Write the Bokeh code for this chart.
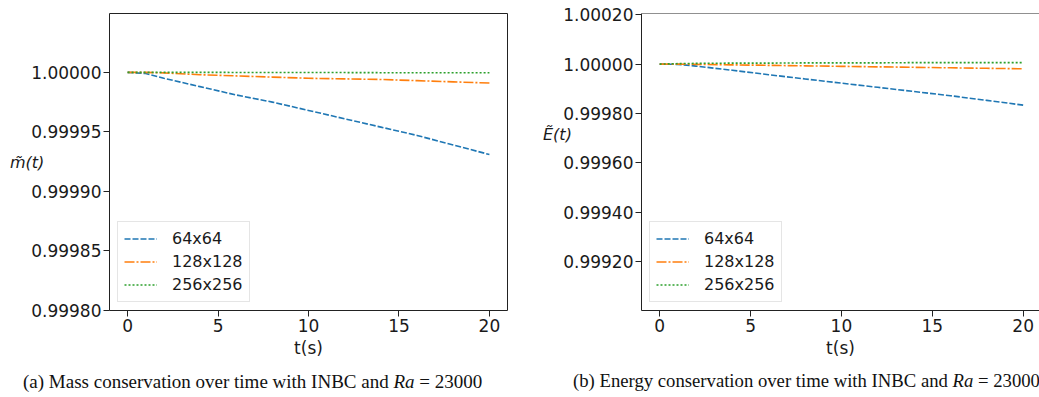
from bokeh.plotting import figure
from bokeh.layouts import column, row
from bokeh.models import (Range1d, FixedTicker, PrintfTickFormatter, Legend,
                          LegendItem, Span, Div)
from bokeh.embed import file_html
from bokeh.resources import INLINE

# ---- data ----
t = [0, 1, 2, 4, 6, 8, 10, 12, 14, 16, 18, 20]
series_names = ["64x64", "128x128", "256x256"]
mass_64 = [1.0, 0.999999, 0.999995, 0.999988, 0.999981, 0.999975, 0.999968,
           0.999961, 0.999954, 0.999947, 0.999939, 0.999931]
mass_128 = [1.0, 1.0, 0.9999995, 0.999998, 0.999997, 0.999996, 0.999995,
            0.9999945, 0.999994, 0.999993, 0.999992, 0.999991]
mass_256 = [1.0, 1.0, 1.0, 1.0, 0.9999999, 0.9999999, 0.9999998, 0.9999998,
            0.9999997, 0.9999997, 0.9999996, 0.9999996]
energy_64 = [1.0, 0.999999, 0.999992, 0.999975, 0.999957, 0.99994, 0.999923,
             0.999906, 0.999889, 0.999872, 0.999853, 0.999834]
energy_128 = [1.0, 1.0, 0.999999, 0.999997, 0.999995, 0.999993, 0.999991,
              0.999989, 0.999987, 0.999985, 0.999983, 0.999981]
energy_256 = [1.0, 1.000002, 1.000003, 1.000004, 1.000004, 1.000005, 1.000005,
              1.000005, 1.000006, 1.000006, 1.000006, 1.000006]
x_ticks = [0, 5, 10, 15, 20]
mass_ticks = [0.99980, 0.99985, 0.99990, 0.99995, 1.00000]
energy_ticks = [0.99920, 0.99940, 0.99960, 0.99980, 1.00000, 1.00020]
mass_label = "m\u0303(t)"
energy_label = "\u1EBC(t)"
caption_a = "(a) Mass conservation over time with INBC and <i>Ra</i> = 23000"
caption_b = "(b) Energy conservation over time with INBC and <i>Ra</i> = 23000"

colors = ["#1f77b4", "#ff7f0e", "#2ca02c"]
dashes = ["6 2", "10 2 2 2", "2 2"]
FONT = "DejaVu Sans"
FS = "16px"
TICK_FS = "17px"
FIG_H = 362
INK = "#1a1a1a"
AXW = 79  # width reserved for the y axis (ticks + labels)


def make_fig(width, ys, yrange, yticks, xend, border_left, border_right,
             border_top, open_right=False):
    p = figure(width=width, height=FIG_H, output_backend="svg",
               toolbar_location=None,
               x_range=Range1d(-1, xend), y_range=Range1d(*yrange),
               min_border_left=border_left, min_border_right=border_right,
               min_border_top=border_top, min_border_bottom=FIG_H - 310)
    p.xgrid.visible = False
    p.ygrid.visible = False
    p.background_fill_color = "white"
    p.border_fill_alpha = 0
    for ax in (p.xaxis[0], p.yaxis[0]):
        ax.axis_line_color = "#222222" if open_right else None
        ax.major_tick_out = 6
        ax.major_tick_in = 0
        ax.minor_tick_out = 0
        ax.minor_tick_in = 0
        ax.major_tick_line_color = "#222222"
        ax.major_label_text_font = FONT
        ax.major_label_text_font_size = TICK_FS
        ax.major_label_text_color = INK
        ax.major_label_standoff = 2
    if open_right:
        p.outline_line_color = None
        p.add_layout(Span(location=yrange[1], dimension="width",
                          line_color="#222222", line_width=1))
    else:
        p.outline_line_color = "#222222"
        p.outline_line_width = 1
    p.xaxis.ticker = FixedTicker(ticks=x_ticks)
    p.yaxis.ticker = FixedTicker(ticks=yticks)
    p.yaxis.formatter = PrintfTickFormatter(format="%.5f")
    p.xaxis.axis_label = "t(s)"
    p.xaxis.axis_label_text_font = FONT
    p.xaxis.axis_label_text_font_size = TICK_FS
    p.xaxis.axis_label_text_font_style = "normal"
    p.xaxis.axis_label_text_color = INK
    p.xaxis.axis_label_standoff = 3

    items = []
    for name, y, c, d in zip(series_names, ys, colors, dashes):
        r = p.line(t, y, line_color=c, line_width=1.6, line_dash=d)
        items.append(LegendItem(label=name, renderers=[r]))
    leg = Legend(items=items, location="bottom_left", margin=8, padding=6,
                 spacing=2, glyph_width=33, glyph_height=21, label_height=21,
                 label_standoff=15, label_text_font=FONT,
                 label_text_font_size=FS, label_text_color=INK,
                 border_line_color="#cccccc", border_line_width=1,
                 background_fill_color="white", background_fill_alpha=0.8)
    p.add_layout(leg)
    return p


def ylabel_div(text, width, pad_left, center_y):
    return Div(text=text, width=width, height=FIG_H,
               styles={"font-family": FONT, "font-style": "italic",
                       "font-size": FS, "line-height": "20px",
                       "color": INK, "white-space": "nowrap",
                       "box-sizing": "border-box", "overflow": "visible",
                       "padding-left": f"{pad_left}px",
                       "padding-top": f"{center_y - 10}px", "margin": "0"})


W1 = 107 - AXW
W2 = 639 - 520 - AXW
p1 = make_fig(520 - W1, [mass_64, mass_128, mass_256],
              (0.99980, 1.0000494), mass_ticks, 21, AXW, 13, 13)
p2 = make_fig(519 - W2, [energy_64, energy_128, energy_256],
              (0.999002, 1.000205), energy_ticks, 20.9, AXW, 0, 11,
              open_right=True)
l1 = ylabel_div(mass_label, W1, 10, 163)
l2 = ylabel_div(energy_label, W2, 23, 135)

cap_style = {"font-family": "Liberation Serif", "white-space": "nowrap",
             "color": "#111111", "padding-top": "6px", "margin": "0",
             "box-sizing": "border-box", "overflow": "hidden"}
d1 = Div(text=caption_a, width=520, height=397 - FIG_H,
         styles=dict(cap_style, **{"padding-left": "23px",
                                   "font-size": "19px"}))
d2 = Div(text=caption_b, width=519, height=397 - FIG_H,
         styles=dict(cap_style, **{"padding-left": "53px",
                                   "font-size": "18.7px"}))

layout = column(row(l1, p1, l2, p2, spacing=0), row(d1, d2, spacing=0),
                spacing=0)
open("out.html", "w").write(file_html(layout, INLINE))
